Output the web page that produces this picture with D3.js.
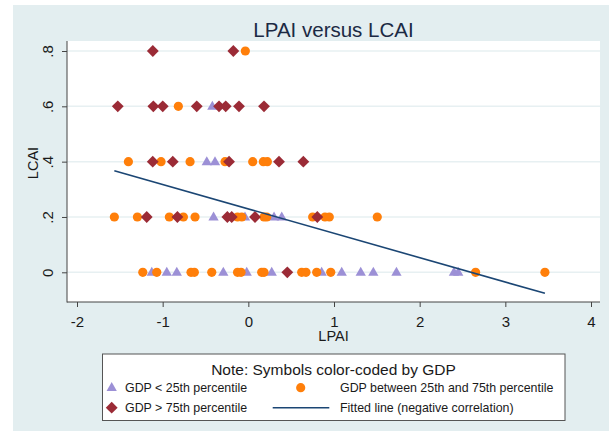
<!DOCTYPE html>
<html>
<head>
<meta charset="utf-8">
<script src="https://cdn.jsdelivr.net/npm/d3@7"></script>
<style>
  body { margin: 0; background: #fff; }
  svg { display: block; font-family: "Liberation Sans", Arial, sans-serif; }
</style>
</head>
<body>
<svg id="chart" width="609" height="431"></svg>
<script>
// values
const lowLPAI = [-0.420, -0.485, -0.389, -0.406, -0.039, 0.300, 0.390,
  -1.127, -0.952, -0.835, -0.292, -0.019, 0.273, 0.856, 1.090, 1.312, 1.459, 1.729, 2.400, 2.450];
const lowLCAI = [0.6, 0.4, 0.4, 0.2, 0.2, 0.2, 0.2,
  0, 0, 0, 0, 0, 0, 0, 0, 0, 0, 0, 0, 0];

const midLPAI = [-0.035, -0.817,
  -1.400, -1.019, -0.680, -0.272, 0.051, 0.175, 0.222,
  -1.564, -1.295, -0.922, -0.758, -0.622, -0.126, -0.077, 0.183, 0.215, 0.751, 0.895, 0.945, 1.505,
  -1.232, -1.069, -0.669, -0.630, -0.427, -0.126, -0.085, 0.156, 0.183, 0.623, 0.673, 0.798, 0.962, 2.653, 3.462];
const midLCAI = [0.8, 0.6,
  0.4, 0.4, 0.4, 0.4, 0.4, 0.4, 0.4,
  0.2, 0.2, 0.2, 0.2, 0.2, 0.2, 0.2, 0.2, 0.2, 0.2, 0.2, 0.2, 0.2,
  0, 0, 0, 0, 0, 0, 0, 0, 0, 0, 0, 0, 0, 0, 0];

const highLPAI = [-1.115, -0.175,
  -1.524, -1.109, -0.999, -0.602, -0.342, -0.264, -0.109, 0.183,
  -1.116, -0.882, -0.225, 0.358, 0.642,
  -1.186, -0.828, -0.245, -0.194, 0.078, 0.805,
  0.455];
const highLCAI = [0.8, 0.8,
  0.6, 0.6, 0.6, 0.6, 0.6, 0.6, 0.6, 0.6,
  0.4, 0.4, 0.4, 0.4, 0.4,
  0.2, 0.2, 0.2, 0.2, 0.2, 0.2,
  0];

// fitted line end points
const fitLPAI = [-1.564, 3.462];
const fitLCAI = [0.367, -0.076];

const xTicks = [-2, -1, 0, 1, 2, 3, 4];
const xTickLabels = ["-2", "-1", "0", "1", "2", "3", "4"];
const yTicks = [0, 0.2, 0.4, 0.6, 0.8];
const yTickLabels = ["0", ".2", ".4", ".6", ".8"];

const colors = { low: "#9c90d6", mid: "#ff7f0a", high: "#9b2b36", fit: "#1b4674" };

const svg = d3.select("#chart");
const plot = { left: 67, right: 600, top: 41, bottom: 302 };

// outer background
svg.append("rect").attr("x", 13).attr("y", 5).attr("width", 596).attr("height", 426)
  .attr("fill", "#e3eef0");
svg.append("rect").attr("x", plot.left).attr("y", plot.top)
  .attr("width", plot.right - plot.left).attr("height", plot.bottom - plot.top)
  .attr("fill", "#fff");

const x = d3.scaleLinear().domain([-2, 4]).range([77, 591]);
const y = d3.scaleLinear().domain([0, 0.8]).range([272.3, 51]);

// grid
svg.append("g").selectAll("line").data(yTicks).join("line")
  .attr("x1", plot.left).attr("x2", plot.right)
  .attr("y1", d => y(d)).attr("y2", d => y(d))
  .attr("stroke", "#e7f0f2").attr("stroke-width", 1.5);

// axes
const xAxis = d3.axisBottom(x).tickValues(xTicks).tickSize(5).tickPadding(9)
  .tickFormat((d, i) => xTickLabels[i]);
const gx = svg.append("g").attr("transform", `translate(0,${plot.bottom})`).call(xAxis);
gx.select(".domain").remove();
gx.selectAll("line").attr("stroke", "#444");
gx.selectAll("text").attr("font-size", 15).attr("fill", "#1a1a1a")
  .attr("font-family", "Liberation Sans, Arial, sans-serif");

const yAxis = d3.axisLeft(y).tickValues(yTicks).tickSize(5)
  .tickFormat((d, i) => yTickLabels[i]);
const gy = svg.append("g").attr("transform", `translate(${plot.left},0)`).call(yAxis);
gy.select(".domain").remove();
gy.selectAll("line").attr("stroke", "#444");
gy.selectAll("text").attr("x", 0).attr("dy", 0)
  .attr("transform", "translate(-14,0) rotate(-90)")
  .attr("text-anchor", "middle")
  .attr("font-size", 15).attr("fill", "#1a1a1a")
  .attr("font-family", "Liberation Sans, Arial, sans-serif");

svg.append("line").attr("x1", plot.left).attr("x2", plot.left)
  .attr("y1", plot.top).attr("y2", plot.bottom + 0.5).attr("stroke", "#444");
svg.append("line").attr("x1", plot.left).attr("x2", plot.right)
  .attr("y1", plot.bottom).attr("y2", plot.bottom).attr("stroke", "#444");

// markers
const tri = d3.symbol().type(d3.symbolTriangle).size(46);
const dia = d3.symbol().type(d3.symbolSquare).size(70);

svg.append("g").selectAll("path").data(d3.range(lowLPAI.length)).join("path")
  .attr("d", tri)
  .attr("transform", i => `translate(${x(lowLPAI[i])},${y(lowLCAI[i]) + 0.5})`)
  .attr("fill", colors.low);

svg.append("g").selectAll("circle").data(d3.range(midLPAI.length)).join("circle")
  .attr("cx", i => x(midLPAI[i])).attr("cy", i => y(midLCAI[i]))
  .attr("r", 4.6).attr("fill", colors.mid);

svg.append("g").selectAll("path").data(d3.range(highLPAI.length)).join("path")
  .attr("d", dia)
  .attr("transform", i => `translate(${x(highLPAI[i])},${y(highLCAI[i])}) rotate(45)`)
  .attr("fill", colors.high);

// fitted line
svg.append("path")
  .datum(d3.range(fitLPAI.length))
  .attr("d", d3.line().x(i => x(fitLPAI[i])).y(i => y(fitLCAI[i])))
  .attr("fill", "none").attr("stroke", colors.fit).attr("stroke-width", 1.6);

// titles
svg.append("text").attr("x", 333.5).attr("y", 37).attr("text-anchor", "middle")
  .attr("font-size", 20.5).attr("fill", "#1c2a44").text("LPAI versus LCAI");
svg.append("text").attr("x", 333.5).attr("y", 341).attr("text-anchor", "middle")
  .attr("font-size", 14.5).attr("fill", "#1a1a1a").text("LPAI");
svg.append("text").attr("transform", "translate(38,163) rotate(-90)")
  .attr("text-anchor", "middle").attr("font-size", 14.5).attr("fill", "#1a1a1a").text("LCAI");

// legend
const lg = svg.append("g");
lg.append("rect").attr("x", 102.5).attr("y", 354).attr("width", 462.5).attr("height", 66.5)
  .attr("fill", "#fff").attr("stroke", "#555").attr("stroke-width", 1);
lg.append("text").attr("x", 333.5).attr("y", 374.5).attr("text-anchor", "middle")
  .attr("font-size", 15.5).attr("fill", "#1a1a1a").text("Note: Symbols color-coded by GDP");

lg.append("path").attr("d", tri).attr("transform", "translate(111.7,388)").attr("fill", colors.low);
lg.append("path").attr("d", dia).attr("transform", "translate(111.7,407.7) rotate(45)").attr("fill", colors.high);
lg.append("circle").attr("cx", 300.7).attr("cy", 387.7).attr("r", 4.6).attr("fill", colors.mid);
lg.append("line").attr("x1", 272.7).attr("x2", 329.3).attr("y1", 407.7).attr("y2", 407.7)
  .attr("stroke", colors.fit).attr("stroke-width", 1.6);

const legendText = [
  ["GDP < 25th percentile", 125, 392],
  ["GDP between 25th and 75th percentile", 340, 392],
  ["GDP > 75th percentile", 125, 412],
  ["Fitted line (negative correlation)", 340, 412]
];
lg.selectAll("text.item").data(legendText).join("text").attr("class", "item")
  .attr("x", d => d[1]).attr("y", d => d[2])
  .attr("font-size", 12.4).attr("fill", "#1a1a1a").text(d => d[0]);
</script>
</body>
</html>
